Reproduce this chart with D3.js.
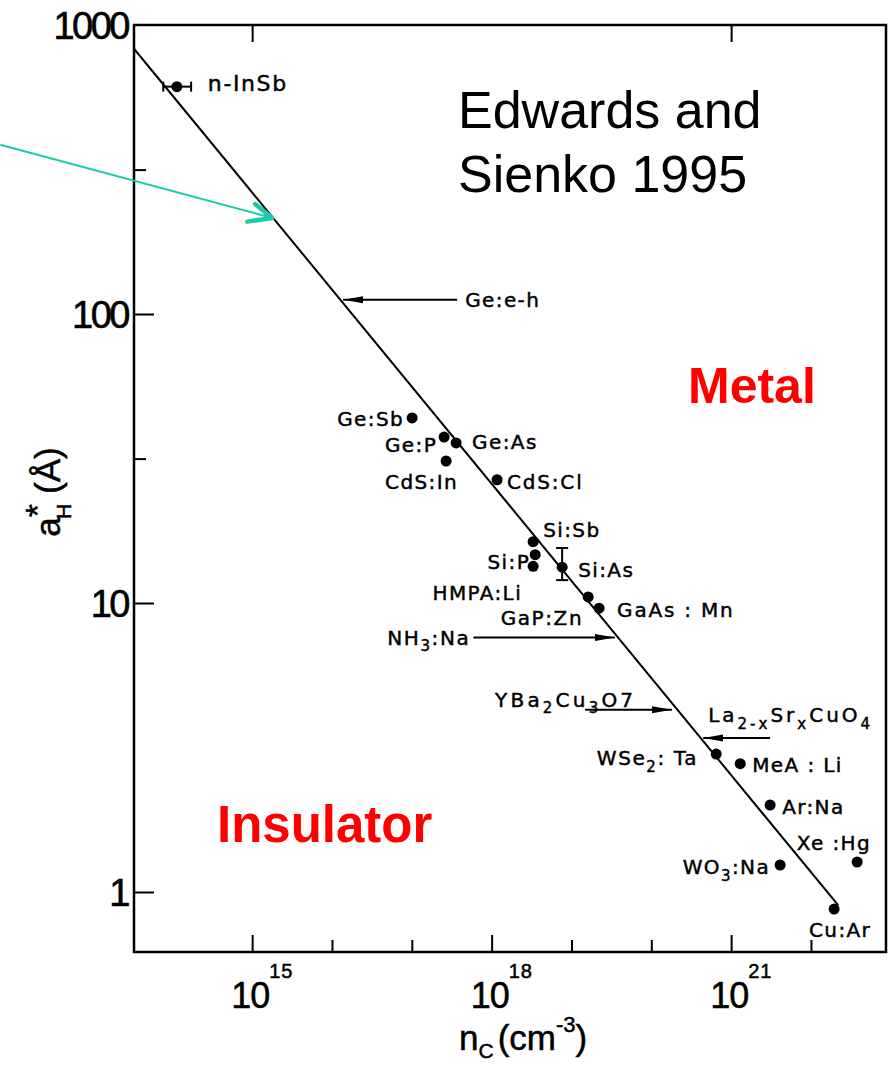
<!DOCTYPE html>
<html>
<head>
<meta charset="utf-8">
<script src="https://cdn.jsdelivr.net/npm/d3@7"></script>
<style>
  body { margin: 0; background: #fff; }
  svg { display: block; }
</style>
</head>
<body>
<svg id="chart" width="891" height="1066"></svg>
<script>
// critical density n_c (cm^-3) vs effective Bohr radius a_H* (Angstrom)
const samples = ["n-InSb", "Ge:Sb", "Ge:P", "Ge:As", "CdS:In", "CdS:Cl", "Si:Sb", "Si:P", "HMPA:Li",
  "Si:As", "GaP:Zn", "GaAs : Mn", "WSe_{2}: Ta", "MeA : Li", "Ar:Na", "Xe :Hg", "WO_{3}:Na", "Cu:Ar"];
const nC = [1.14e14, 1.01e17, 2.54e17, 3.59e17, 2.69e17, 1.17e18, 3.31e18, 3.51e18, 3.31e18,
  7.64e18, 1.62e19, 2.22e19, 6.5e20, 1.3e21, 3.08e21, 3.79e22, 4.11e21, 1.95e22];
const aH = [612, 43.7, 37.5, 35.8, 31.0, 26.7, 16.3, 14.7, 13.4,
  13.3, 10.5, 9.6, 3.0, 2.78, 2.0, 1.27, 1.24, 0.873];

// error bars
const inSbRange = [7.7e13, 1.72e14];   // n-InSb, horizontal
const siAsRange = [12.0, 15.5];        // Si:As, vertical

// arrows pointing at the line
const arrowNames = ["Ge:e-h", "NH_{3}:Na", "YBa_{2}Cu_{3}O7", "La_{2-x}Sr_{x}CuO_{4}"];
const arrowFrom = [3.7e17, 5.9e17, 1.48e19, 3.08e21];
const arrowTo = [1.38e16, 3.5e19, 1.82e20, 4.47e20];
const arrowA = [112, 7.6, 4.27, 3.41];

// Mott line a_H* n_c^(1/3) = 0.26, two end points
const lineN = [3.33e13, 2.19e22];
const lineA = [826, 0.90];

// teal annotation arrow
const noteN = [7e11, 1.78e15];
const noteA = [385, 215];

// ticks
const xMajor = [1e15, 1e18, 1e21];
const xMinor = [1e16, 1e17, 1e19, 1e20, 1e22];
const xTop = [1e15, 1e21];
const yMajor = [1, 10, 100, 1000];
const yMinor = [316, 31.6];

// label placement: dx, dy (to text centre), anchor, letter spacing
const labelAt = {
  "n-InSb": [31, -4, "start", 1.6],
  "Ge:Sb": [-8, 1, "end", 1.4],
  "Ge:P": [-7, 8, "end", 1.4],
  "Ge:As": [16, -1, "start", 1.4],
  "CdS:In": [12, 21, "end", 1.4],
  "CdS:Cl": [10, 2, "start", 1.8],
  "Si:Sb": [10, -12, "start", 1.4],
  "Si:P": [-5, 7, "end", 1.4],
  "HMPA:Li": [-11, 27, "end", 1.4],
  "Si:As": [16, 3, "start", 1.4],
  "GaP:Zn": [-5, 21, "end", 1.6],
  "GaAs : Mn": [18, 2, "start", 1.8],
  "WSe_{2}: Ta": [-18, 4, "end", 1.6],
  "MeA : Li": [12, 1, "start", 1.4],
  "Ar:Na": [12, 2, "start", 1.4],
  "Xe :Hg": [14, -19, "end", 1.4],
  "WO_{3}:Na": [-10, 2, "end", 1.4],
  "Cu:Ar": [6, 21, "middle", 1.4],
  "Ge:e-h": [8, 0, "start", 1.4],
  "NH_{3}:Na": [-3, 0, "end", 1.6],
  "YBa_{2}Cu_{3}O7": [-90, -10, "start", 3.2],
  "La_{2-x}Sr_{x}CuO_{4}": [-62, -23, "start", 3.0]
};

const svg = d3.select("#chart");
const x = d3.scaleLog().domain([10 ** 13.52, 10 ** 22.94]).range([134, 886]);
const y = d3.scaleLog().domain([10 ** -0.2076, 1000]).range([952, 25]);

const labelFont = "'DejaVu Sans', sans-serif";
const plainFont = "'Liberation Sans', Arial, sans-serif";

// text with _{sub} and ^{sup}
function addRich(text, str, size) {
  const parts = str.split(/(_\{[^}]*\}|\^\{[^}]*\})/).filter(s => s.length);
  let shift = 0;
  parts.forEach(p => {
    let target = 0, fs = size, t = p;
    if (p.startsWith("_{")) { target = 0.32 * size; fs = 0.75 * size; t = p.slice(2, -1); }
    else if (p.startsWith("^{")) { target = -0.45 * size; fs = 0.75 * size; t = p.slice(2, -1); }
    text.append("tspan").attr("dy", target - shift).attr("font-size", fs).text(t);
    shift = target;
  });
}

function putLabel(name, px, py, size) {
  const [dx, dy, anchor, spacing] = labelAt[name];
  const t = svg.append("text")
    .attr("x", px + dx)
    .attr("y", py + dy + 0.36 * size)
    .attr("text-anchor", anchor)
    .attr("font-family", labelFont)
    .attr("font-size", size)
    .attr("letter-spacing", spacing)
    .attr("fill", "#000")
    .attr("stroke", "#000")
    .attr("stroke-width", 0.45);
  addRich(t, name, size);
}

// markers
const defs = svg.append("defs");
defs.append("marker")
  .attr("id", "head")
  .attr("markerUnits", "userSpaceOnUse")
  .attr("viewBox", "0 -5 22 10")
  .attr("refX", 20).attr("refY", 0)
  .attr("markerWidth", 22).attr("markerHeight", 10)
  .attr("orient", "auto")
  .append("path")
  .attr("d", "M0,-3.5L20,0L0,3.5Z")
  .attr("fill", "#000");
defs.append("marker")
  .attr("id", "chevron")
  .attr("markerUnits", "userSpaceOnUse")
  .attr("viewBox", "-28 -14 32 28")
  .attr("refX", 0).attr("refY", 0)
  .attr("markerWidth", 32).attr("markerHeight", 28)
  .attr("orient", "auto")
  .append("path")
  .attr("d", "M-23,10L0,0L-20,-9")
  .attr("fill", "none")
  .attr("stroke", "#1fcaa8")
  .attr("stroke-width", 4.5)
  .attr("stroke-linecap", "round")
  .attr("stroke-linejoin", "round");

// axes (ticks inside the frame)
function styleAxis(g) {
  g.select(".domain").remove();
  g.selectAll("line").attr("stroke", "#000").attr("stroke-width", 2);
}
svg.append("g").attr("transform", "translate(0,952)")
  .call(d3.axisBottom(x).tickValues(xMajor).tickSize(-17).tickFormat(""))
  .call(styleAxis);
svg.append("g").attr("transform", "translate(0,952)")
  .call(d3.axisBottom(x).tickValues(xMinor).tickSize(-12).tickFormat(""))
  .call(styleAxis);
svg.append("g").attr("transform", "translate(0,25)")
  .call(d3.axisTop(x).tickValues(xTop).tickSize(-17).tickFormat(""))
  .call(styleAxis);
svg.append("g").attr("transform", "translate(134,0)")
  .call(d3.axisLeft(y).tickValues(yMajor.slice(0, 3)).tickSize(-20).tickFormat(""))
  .call(styleAxis);
svg.append("g").attr("transform", "translate(134,0)")
  .call(d3.axisLeft(y).tickValues(yMinor).tickSize(-12).tickFormat(""))
  .call(styleAxis);

// frame
svg.append("rect")
  .attr("x", x.range()[0]).attr("y", y.range()[1])
  .attr("width", x.range()[1] - x.range()[0])
  .attr("height", y.range()[0] - y.range()[1])
  .attr("fill", "none").attr("stroke", "#000").attr("stroke-width", 2.5);

// y tick labels
yMajor.forEach(v => {
  svg.append("text")
    .attr("x", 128).attr("y", y(v) + 14)
    .attr("text-anchor", "end")
    .attr("font-family", plainFont)
    .attr("font-size", 38)
    .attr("letter-spacing", -2.5)
    .attr("stroke", "#000").attr("stroke-width", 0.6)
    .text(v);
});

// x tick labels 10^n
xMajor.forEach(v => {
  const t = svg.append("text")
    .attr("x", x(v) - 21).attr("y", 1008)
    .attr("font-family", plainFont)
    .attr("font-size", 36)
    .attr("letter-spacing", -1)
    .attr("stroke", "#000").attr("stroke-width", 0.5);
  t.append("tspan").text("10");
  t.append("tspan").attr("dy", -30).attr("font-size", 20).attr("letter-spacing", 1)
    .text(Math.round(Math.log10(v)));
});

// axis titles
const xt = svg.append("text")
  .attr("x", 459).attr("y", 1050)
  .attr("font-family", plainFont)
  .attr("font-size", 35)
  .attr("stroke", "#000").attr("stroke-width", 0.5);
xt.append("tspan").text("n");
xt.append("tspan").attr("dy", 8).attr("font-size", 21).text("C");
xt.append("tspan").attr("dy", -8).attr("dx", 4).text("(cm");
xt.append("tspan").attr("dy", -18).attr("font-size", 22).text("-3");
xt.append("tspan").attr("dy", 18).text(")");

const yt = svg.append("text")
  .attr("transform", "translate(60,492) rotate(-90)")
  .attr("text-anchor", "middle")
  .attr("font-family", plainFont)
  .attr("font-size", 35)
  .attr("stroke", "#000").attr("stroke-width", 0.5);
yt.append("tspan").text("a");
yt.append("tspan").attr("dy", -11).attr("font-size", 34).text("*");
yt.append("tspan").attr("dx", -15).attr("dy", 22).attr("font-size", 21).text("H");
yt.append("tspan").attr("dy", -11).text(" (Å)");

// Mott line
svg.append("path")
  .datum(d3.zip(lineN, lineA))
  .attr("d", d3.line().x(d => x(d[0])).y(d => y(d[1])))
  .attr("stroke", "#000").attr("stroke-width", 2).attr("fill", "none");

// error bars
const inSb = samples.indexOf("n-InSb");
svg.append("line")
  .attr("x1", x(inSbRange[0])).attr("x2", x(inSbRange[1]))
  .attr("y1", y(aH[inSb])).attr("y2", y(aH[inSb]))
  .attr("stroke", "#000").attr("stroke-width", 2);
inSbRange.forEach(v => {
  svg.append("line")
    .attr("x1", x(v)).attr("x2", x(v))
    .attr("y1", y(aH[inSb]) - 5).attr("y2", y(aH[inSb]) + 5)
    .attr("stroke", "#000").attr("stroke-width", 2);
});
const siAs = samples.indexOf("Si:As");
svg.append("line")
  .attr("x1", x(nC[siAs])).attr("x2", x(nC[siAs]))
  .attr("y1", y(siAsRange[0])).attr("y2", y(siAsRange[1]))
  .attr("stroke", "#000").attr("stroke-width", 2);
siAsRange.forEach(v => {
  svg.append("line")
    .attr("x1", x(nC[siAs]) - 6).attr("x2", x(nC[siAs]) + 6)
    .attr("y1", y(v)).attr("y2", y(v))
    .attr("stroke", "#000").attr("stroke-width", 2);
});

// data points and their labels
samples.forEach((s, i) => {
  svg.append("circle")
    .attr("cx", x(nC[i])).attr("cy", y(aH[i]))
    .attr("r", 5.5).attr("fill", "#000");
  putLabel(s, x(nC[i]), y(aH[i]), s === "n-InSb" ? 22 : 20);
});

// arrows
arrowNames.forEach((s, i) => {
  svg.append("line")
    .attr("x1", x(arrowFrom[i])).attr("x2", x(arrowTo[i]))
    .attr("y1", y(arrowA[i])).attr("y2", y(arrowA[i]))
    .attr("stroke", "#000").attr("stroke-width", 2)
    .attr("marker-end", "url(#head)");
  putLabel(s, x(arrowFrom[i]), y(arrowA[i]), 20);
});

// teal annotation
svg.append("line")
  .attr("x1", x(noteN[0])).attr("y1", y(noteA[0]))
  .attr("x2", x(noteN[1])).attr("y2", y(noteA[1]))
  .attr("stroke", "#1fcaa8").attr("stroke-width", 2)
  .attr("marker-end", "url(#chevron)");

// title and region names
const title = svg.append("text")
  .attr("font-family", plainFont)
  .attr("font-size", 52)
  .attr("fill", "#000");
title.append("tspan").attr("x", 458).attr("y", 128).text("Edwards and");
title.append("tspan").attr("x", 458).attr("y", 192).text("Sienko 1995");

svg.append("text")
  .attr("x", 688).attr("y", 403)
  .attr("font-family", plainFont).attr("font-weight", "bold")
  .attr("font-size", 50).attr("fill", "#ff0000")
  .text("Metal");
svg.append("text")
  .attr("x", 217).attr("y", 842)
  .attr("font-family", plainFont).attr("font-weight", "bold")
  .attr("font-size", 51).attr("fill", "#ff0000")
  .text("Insulator");
</script>
</body>
</html>
